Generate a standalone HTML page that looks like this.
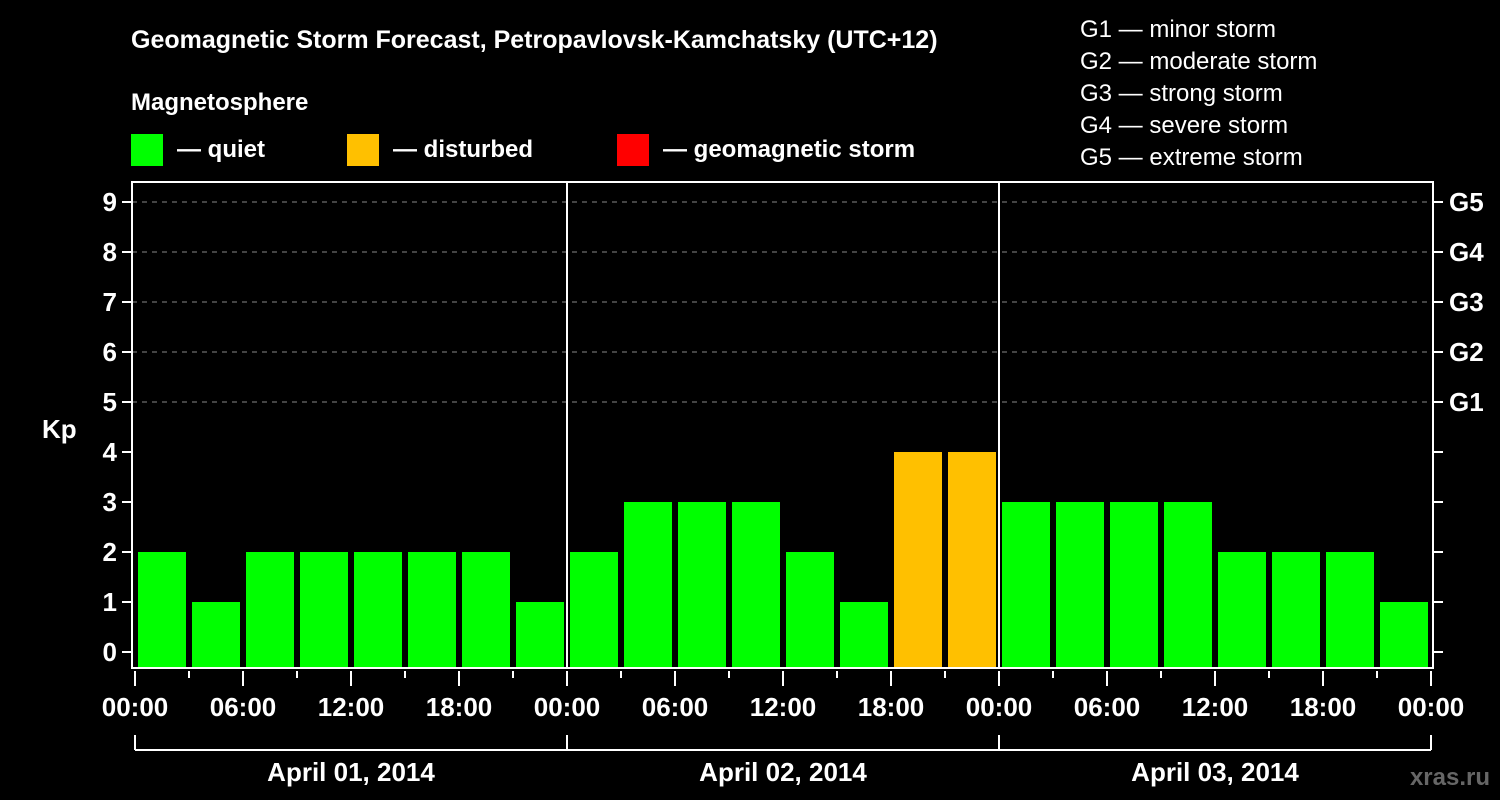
<!DOCTYPE html>
<html><head><meta charset="utf-8"><style>
html,body{margin:0;padding:0;background:#000;}
svg{display:block;font-family:"Liberation Sans",Arial,sans-serif;}
</style></head><body>
<svg id="c" width="1500" height="800" viewBox="0 0 1500 800">
<text x="131" y="48" fill="#fff" font-size="25" font-weight="bold">Geomagnetic Storm Forecast, Petropavlovsk-Kamchatsky (UTC+12)</text>
<text x="131" y="110" fill="#fff" font-size="24" font-weight="bold">Magnetosphere</text>
<g><rect x="131" y="134" width="32" height="32" fill="#00ff00"/><text x="177" y="157" fill="#fff" font-size="24" font-weight="bold">— quiet</text></g>
<g><rect x="347" y="134" width="32" height="32" fill="#ffc000"/><text x="393" y="157" fill="#fff" font-size="24" font-weight="bold">— disturbed</text></g>
<g><rect x="617" y="134" width="32" height="32" fill="#ff0000"/><text x="663" y="157" fill="#fff" font-size="24" font-weight="bold">— geomagnetic storm</text></g>
<g fill="#fff" font-size="24">
<text x="1080" y="37">G1 — minor storm</text>
<text x="1080" y="69">G2 — moderate storm</text>
<text x="1080" y="101">G3 — strong storm</text>
<text x="1080" y="133">G4 — severe storm</text>
<text x="1080" y="165">G5 — extreme storm</text>
</g>
<text x="42" y="438" fill="#fff" font-size="26" font-weight="bold">Kp</text>
<text x="1490" y="785" fill="#666" font-size="24" font-weight="bold" text-anchor="end">xras.ru</text>
<g id="plot"></g>
</svg>
<script>
const kpValues=[2,1,2,2,2,2,2,1, 2,3,3,3,2,1,4,4, 3,3,3,3,2,2,2,1];
const dayLabels=["April 01, 2014","April 02, 2014","April 03, 2014"];
const timeLabels=["00:00","06:00","12:00","18:00"];
const gLabels=["G1","G2","G3","G4","G5"];
const yTicks=[0,1,2,3,4,5,6,7,8,9];

const NS="http://www.w3.org/2000/svg";
const g=document.getElementById('plot');
const X0=135, SLOT=54, PL=132, PR=1433, PT=182, PB=668;
const xScale=i=>X0+i*SLOT;
const yScale=v=>652-v*50;
function mk(t,a,p){const e=document.createElementNS(NS,t);for(const k in a)e.setAttribute(k,a[k]);(p||g).appendChild(e);return e;}

// grid
for(let v=5;v<=9;v++){
  const l=mk('line',{x1:PL,x2:PR,y1:yScale(v),y2:yScale(v),stroke:'#888','stroke-dasharray':'5,5','stroke-width':1});
  
  
}
// bars
kpValues.forEach((v,i)=>{
  const col=v>=5?'#ff0000':(v>=4?'#ffc000':'#00ff00');
  const r=mk('rect',{x:xScale(i)+3,y:yScale(v),width:SLOT-6,height:PB-yScale(v),fill:col});
  
  
});
// frame
const fr=mk('rect',{x:PL,y:PT,width:PR-PL,height:PB-PT,fill:'none',stroke:'#fff','stroke-width':2});


// day separators
for(let d=1;d<dayLabels.length;d++){
  const l=mk('line',{x1:xScale(d*8),x2:xScale(d*8),y1:PT,y2:PB,stroke:'#fff','stroke-width':2});
  
  
}
// y ticks
yTicks.forEach(v=>{
  mk('line',{x1:122,x2:PL,y1:yScale(v),y2:yScale(v),stroke:'#fff','stroke-width':2});
  mk('line',{x1:PR,x2:1443,y1:yScale(v),y2:yScale(v),stroke:'#fff','stroke-width':2});
  const t=mk('text',{x:117,y:yScale(v)+9,fill:'#fff','font-size':26,'font-weight':'bold','text-anchor':'end'});
  t.textContent=v;
  
  
});
gLabels.forEach((s,i)=>{
  const t=mk('text',{x:1449,y:yScale(i+5)+9,fill:'#fff','font-size':26,'font-weight':'bold'});
  t.textContent=s;
  
  
});
// x ticks
const n=dayLabels.length*8;
for(let i=0;i<=n;i++){
  const major=i%2===0;
  mk('line',{x1:xScale(i),x2:xScale(i),y1:671,y2:major?686:678,stroke:'#fff','stroke-width':2});
  if(major){
    const t=mk('text',{x:xScale(i),y:716,fill:'#fff','font-size':26,'font-weight':'bold','text-anchor':'middle'});
    t.textContent=timeLabels[(i/2)%4];
    
    
  }
}
// day brackets
mk('line',{x1:xScale(0),x2:xScale(n),y1:750,y2:750,stroke:'#fff','stroke-width':2});
for(let d=0;d<=dayLabels.length;d++) mk('line',{x1:xScale(d*8),x2:xScale(d*8),y1:735,y2:750,stroke:'#fff','stroke-width':2});
dayLabels.forEach((s,d)=>{
  const t=mk('text',{x:xScale(d*8+4),y:781,fill:'#fff','font-size':26,'font-weight':'bold','text-anchor':'middle'});
  t.textContent=s;
  
  
});
</script>
</body></html>
